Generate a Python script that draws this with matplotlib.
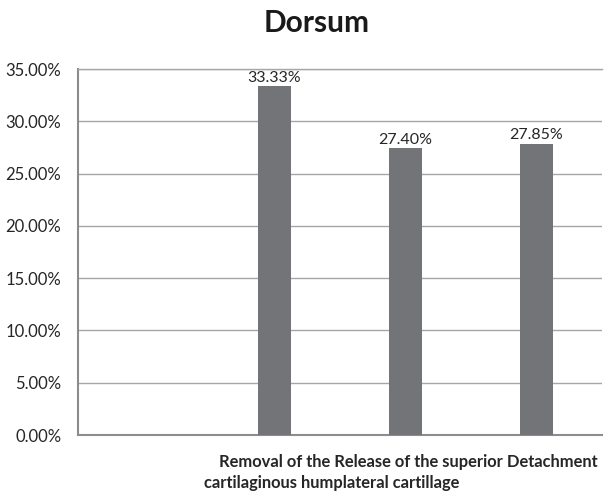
import matplotlib
matplotlib.use("Agg")
import matplotlib.pyplot as plt
import numpy as np

plt.rcParams['font.family'] = ['Lato', 'DejaVu Sans']

# data (first slot has no bar)
categories = ["", "Removal of the cartilaginous hump",
              "Release of the lateral cartillage", "superior Detachment"]
values = [np.nan, 0.3333, 0.2740, 0.2785]
value_labels = ["", "33.33%", "27.40%", "27.85%"]
y_ticks = [0.0, 0.05, 0.10, 0.15, 0.20, 0.25, 0.30, 0.35]
y_tick_labels = ["0.00%", "5.00%", "10.00%", "15.00%", "20.00%",
                 "25.00%", "30.00%", "35.00%"]
caption_lines = ["Removal of the Release of the superior Detachment",
                 "cartilaginous humplateral cartillage"]

fig = plt.figure(figsize=(6.09, 4.96), dpi=100)
ax = fig.add_axes([78 / 609, 1 - 435 / 496, (602 - 78) / 609, (435 - 69) / 496])

x = np.arange(len(categories))
bars = ax.bar(x, values, width=0.25, color='#737478', zorder=3)

for xi, v, lab in zip(x, values, value_labels):
    if lab:
        ax.annotate(lab, (xi, v), xytext=(0, 1), textcoords='offset points',
                    ha='center', va='bottom', fontsize=11.5, color='#262626')

ax.set_xlim(-0.5, len(categories) - 0.5)
ax.set_ylim(0, 0.35)
ax.set_yticks(y_ticks)
ax.set_yticklabels(y_tick_labels, fontsize=12, color='#262626')
ax.set_xticks([])
ax.tick_params(axis='y', length=0, pad=12)

ax.grid(axis='y', color='#a6a6a6', linewidth=1, zorder=0)
ax.spines['right'].set_visible(False)
ax.spines['top'].set_color('#a6a6a6')
ax.spines['top'].set_linewidth(1)
for s in ['left', 'bottom']:
    ax.spines[s].set_color('#8c8c8c')
    ax.spines[s].set_linewidth(1.5)

fig.text(317 / 609, 1 - 23 / 496, "Dorsum", ha='center', va='center',
         fontsize=21.5, fontweight='bold', color='#1a1a1a')

fig.text(219 / 609, 1 - 462 / 496, caption_lines[0], ha='left', va='center',
         fontsize=11.9, fontweight='bold', color='#262626')
fig.text(204 / 609, 1 - 483 / 496, caption_lines[1], ha='left', va='center',
         fontsize=11.9, fontweight='bold', color='#262626')

fig.savefig("out.png", dpi=100)
